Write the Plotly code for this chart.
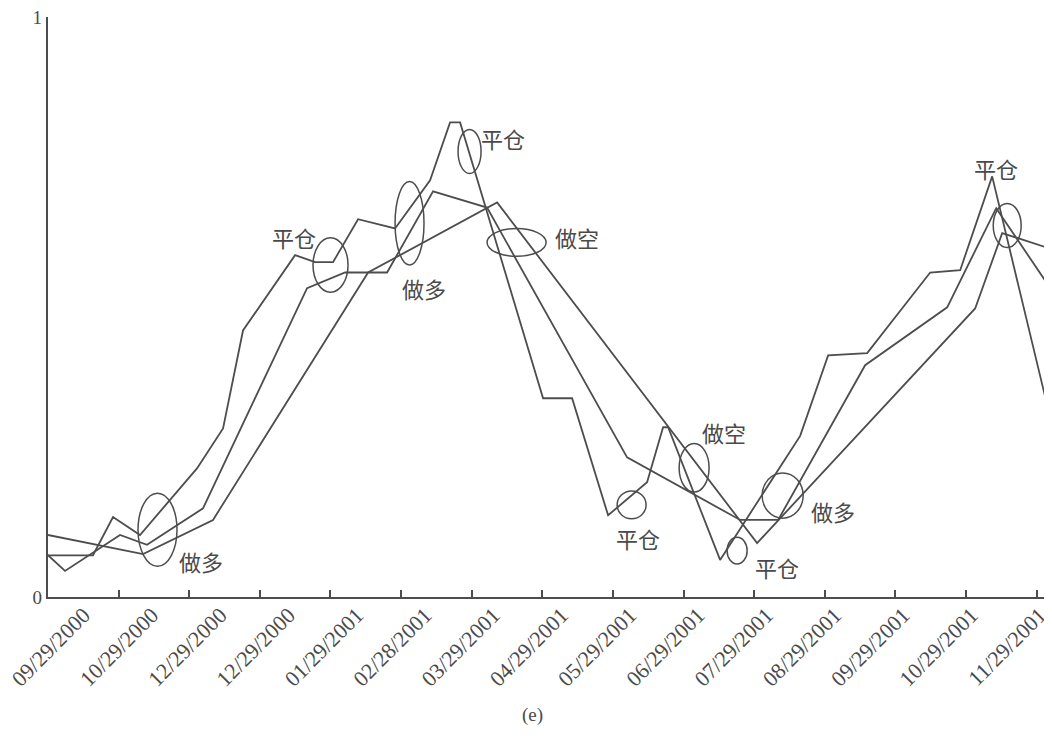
import plotly.graph_objects as go

# ---- data (x in category-index units, y normalised 0..1) ----
tick_labels = ["09/29/2000", "10/29/2000", "12/29/2000", "12/29/2000", "01/29/2001",
               "02/28/2001", "03/29/2001", "04/29/2001", "05/29/2001", "06/29/2001",
               "07/29/2001", "08/29/2001", "09/29/2001", "10/29/2001", "11/29/2001"]

fast_x = [0, 0.637, 0.921, 1.303, 2.110, 2.479, 2.762, 3.499, 3.782, 4.037, 4.391, 4.915,
          5.411, 5.694, 5.836, 7.011, 7.422, 7.932, 8.484, 8.711, 8.782, 9.518, 10.652,
          11.048, 11.601, 12.493, 12.918, 13.371, 14.150]
fast_y = [0.072, 0.072, 0.138, 0.107, 0.222, 0.291, 0.460, 0.590, 0.578, 0.578, 0.652, 0.636,
          0.719, 0.819, 0.819, 0.343, 0.343, 0.141, 0.198, 0.293, 0.293, 0.064, 0.278,
          0.417, 0.421, 0.560, 0.564, 0.726, 0.331]

mid_x = [0, 0.241, 1.020, 1.402, 2.195, 3.669, 4.207, 4.802, 5.453, 6.218, 8.201, 9.802,
         10.340, 11.572, 12.734, 13.428, 14.150]
mid_y = [0.072, 0.045, 0.107, 0.090, 0.153, 0.533, 0.560, 0.560, 0.700, 0.672, 0.241, 0.133,
         0.133, 0.400, 0.500, 0.671, 0.541]

slow_x = [0, 1.346, 2.337, 4.533, 6.360, 10.042, 13.130, 13.513, 14.150]
slow_y = [0.107, 0.074, 0.133, 0.560, 0.681, 0.093, 0.498, 0.628, 0.603]

# signal annotations: label, ellipse centre/radii, label position (data units)
signal_text = ["做多", "平仓", "做多", "平仓", "做空", "平仓", "做空", "平仓", "做多", "平仓"]
ell_cx = [1.551, 4.001, 5.120, 5.970, 6.636, 8.265, 9.150, 9.759, 10.404, 13.584]
ell_cy = [0.116, 0.573, 0.645, 0.769, 0.612, 0.159, 0.223, 0.080, 0.175, 0.641]
ell_rx = [0.276, 0.248, 0.205, 0.163, 0.418, 0.205, 0.212, 0.142, 0.290, 0.198]
ell_ry = [0.063, 0.047, 0.072, 0.038, 0.024, 0.024, 0.042, 0.023, 0.039, 0.038]
lab_x = [2.167, 3.484, 5.326, 6.445, 7.493, 8.357, 9.575, 10.326, 11.119, 13.428]
lab_y = [0.062, 0.621, 0.533, 0.793, 0.622, 0.102, 0.284, 0.052, 0.148, 0.741]

LINE = "#4d4d4d"
TXT = "#4a4a4a"

fig = go.Figure()
for xs, ys in [(fast_x, fast_y), (mid_x, mid_y), (slow_x, slow_y)]:
    fig.add_trace(go.Scatter(x=xs, y=ys, mode="lines",
                             line=dict(color=LINE, width=1.8), showlegend=False,
                             hoverinfo="skip"))

# label-carrying overlay axis (labels are evenly spread, slightly tighter than ticks)
fig.add_trace(go.Scatter(x=[0, len(tick_labels) - 1], y=[None, None], xaxis="x2",
                         mode="lines", showlegend=False, hoverinfo="skip"))

shapes = []
annotations = []
for t, cx, cy, rx, ry, lx, ly in zip(signal_text, ell_cx, ell_cy, ell_rx, ell_ry, lab_x, lab_y):
    shapes.append(dict(type="circle", xref="x", yref="y",
                       x0=cx - rx, x1=cx + rx, y0=cy - ry, y1=cy + ry,
                       line=dict(color=LINE, width=1.5)))
    annotations.append(dict(x=lx, y=ly, xref="x", yref="y", text=t, showarrow=False,
                            xanchor="center", yanchor="middle",
                            font=dict(family="Noto Sans CJK SC", size=22, color=TXT)))

annotations.append(dict(x=0.484, y=-0.203, xref="paper", yref="paper", text="(e)",
                        showarrow=False, xanchor="center", yanchor="middle",
                        font=dict(family="Liberation Serif", size=19, color=TXT)))

# page body has an 8px margin, so the figure is 8px smaller than the window
fig.update_layout(
    width=1044, height=734,
    margin=dict(l=40, r=2, t=9, b=145),
    paper_bgcolor="white", plot_bgcolor="white",
    shapes=shapes, annotations=annotations,
    xaxis=dict(range=[0, 14.19], tickmode="array", tickvals=list(range(len(tick_labels))),
               showticklabels=False, ticks="inside", ticklen=7,
               tickcolor=LINE, tickwidth=1.8, showline=True, linecolor=LINE, linewidth=2.2,
               showgrid=False, zeroline=False, automargin=False),
    xaxis2=dict(overlaying="x", anchor="y", side="bottom", range=[-0.525, 14.15],
                tickmode="array", tickvals=list(range(len(tick_labels))),
                ticktext=tick_labels, tickangle=-45, ticks="", showline=False,
                showgrid=False, zeroline=False, automargin=False,
                ticklabeloverflow="allow",
                tickfont=dict(family="Liberation Serif", size=22, color=TXT)),
    yaxis=dict(range=[0, 1.001], tickmode="array", tickvals=[0, 1], ticktext=["0", "1"],
               ticks="inside", ticklen=11, tickcolor=LINE, tickwidth=2,
               showline=True, linecolor=LINE, linewidth=2.2, showgrid=False,
               zeroline=False, automargin=False, ticklabeloverflow="allow",
               tickfont=dict(family="Liberation Serif", size=19, color=TXT)),
)

fig.write_html("out.html")
